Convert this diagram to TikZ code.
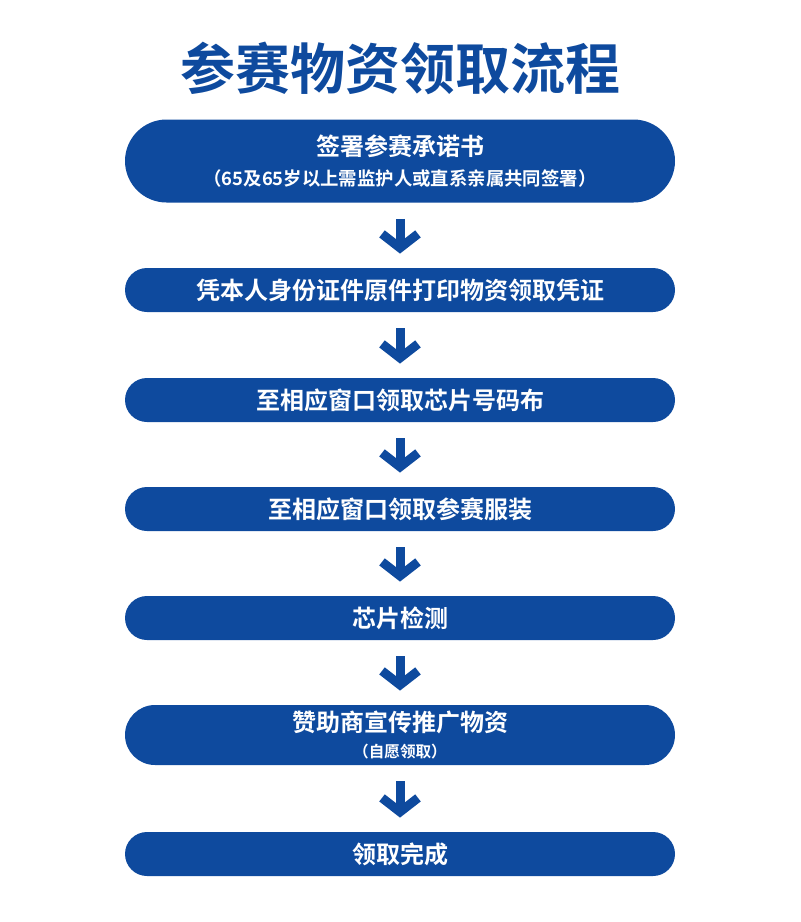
\documentclass[tikz,border=0pt]{standalone}
\usepackage{fontspec}
\newfontfamily\cjk{Noto Sans CJK SC}[BoldFont={Noto Sans CJK SC Bold}]
\usetikzlibrary{arrows.meta}
\definecolor{stepblue}{HTML}{0E4A9E}
\tikzset{
  stepbox/.style={rounded corners=#1, fill=stepblue, text=white, minimum width=275pt,
    minimum height=2*#1, inner ysep=0pt, align=center, font=\cjk\bfseries\fontsize{12}{15}\selectfont},
  stepbox/.default=11pt,
  flow/.style={draw=stepblue, line width=4.5pt, -{Straight Barb[length=7pt,width=18pt]},
    shorten <=8pt, shorten >=7pt}
}
\begin{document}
\begin{tikzpicture}[x=0.5pt,y=-0.5pt]
  \useasboundingbox (0,0) rectangle (800,922);
  \node[text=stepblue, font=\cjk\bfseries\fontsize{27.5}{32}\selectfont] (title) at (400,68) {参赛物资领取流程};

  \node[stepbox=20.75pt] (s1) at (400,161)
    {签署参赛承诺书\\[0pt]{\fontsize{9.2}{11}\selectfont （65及65岁以上需监护人或直系亲属共同签署）}};
  \node[stepbox] (s2) at (400,290) {凭本人身份证件原件打印物资领取凭证};
  \node[stepbox] (s3) at (400,400) {至相应窗口领取芯片号码布};
  \node[stepbox] (s4) at (400,509) {至相应窗口领取参赛服装};
  \node[stepbox] (s5) at (400,618) {芯片检测};
  \node[stepbox=15pt] (s6) at (400,735)
    {赞助商宣传推广物资\\[-2pt]{\fontsize{7.8}{9}\selectfont （自愿领取）}};
  \node[stepbox] (s7) at (400,854) {领取完成};

  \draw[flow] (s1) -- (s2);
  \draw[flow] (s2) -- (s3);
  \draw[flow] (s3) -- (s4);
  \draw[flow] (s4) -- (s5);
  \draw[flow] (s5) -- (s6);
  \draw[flow] (s6) -- (s7);
\end{tikzpicture}
\end{document}
